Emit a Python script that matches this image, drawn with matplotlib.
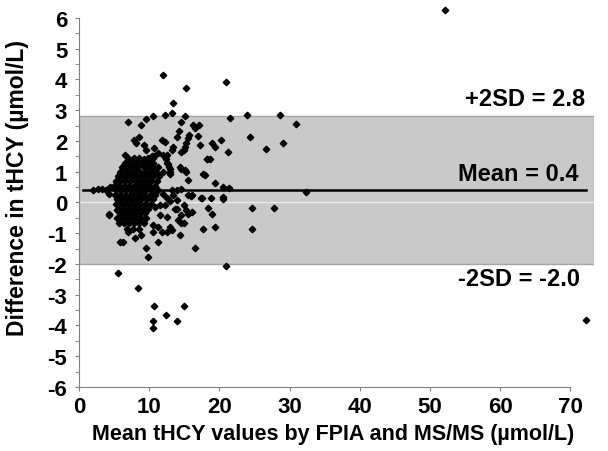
import matplotlib
matplotlib.use('Agg')
import matplotlib.pyplot as plt

plt.rcParams['font.family'] = ['Liberation Sans', 'DejaVu Sans']
plt.rcParams['font.weight'] = 'bold'
plt.rcParams['axes.unicode_minus'] = False

# limits of agreement
mean_diff = 0.4
upper_sd = 2.8
lower_sd = -2.0

# dense core of the cloud, read row by row: (difference, [means])
core_rows = [
    (1.45, [7.0, 7.8, 8.6, 9.8, 10.6]),
    (1.30, [6.5, 7.4, 8.1, 8.9, 9.6, 10.3, 12.6]),
    (1.15, [6.1, 6.9, 7.6, 8.3, 9.2, 9.8, 10.5, 11.2, 12.8]),
    (1.00, [5.8, 6.5, 7.2, 8.0, 8.7, 9.4, 10.2, 11.0, 12.0, 13.0]),
    (0.85, [5.6, 6.2, 6.9, 7.7, 8.4, 9.1, 9.8, 10.6, 11.4]),
    (0.70, [5.2, 5.9, 6.6, 7.3, 8.1, 8.8, 9.5, 10.3, 11.1]),
    (0.55, [5.0, 5.7, 6.4, 7.1, 7.8, 8.5, 9.2, 10.0, 10.8]),
    (0.40, [5.3, 6.0, 6.7, 7.4, 8.2, 8.9, 9.6, 10.4, 11.2]),
    (0.25, [5.1, 5.8, 6.5, 7.2, 7.9, 8.6, 9.3, 10.1, 10.8]),
    (0.10, [5.4, 6.1, 6.8, 7.5, 8.2, 8.9, 9.7, 10.5]),
    (-0.05, [5.2, 5.9, 6.6, 7.3, 8.0, 8.7, 9.4, 10.2]),
    (-0.20, [5.6, 6.3, 7.0, 7.7, 8.4, 9.1, 9.9]),
    (-0.35, [5.9, 6.6, 7.3, 8.0, 8.7, 9.4]),
    (-0.50, [5.4, 6.1, 6.8, 7.5, 8.2, 8.9, 9.6]),
    (-0.68, [5.7, 6.4, 7.1, 7.8, 8.6, 9.3]),
    (-0.85, [6.9, 7.7, 8.5]),
]

# scattered points around the core
spread_mean = [
    12.0, 15.2, 21.0, 13.4, 13.2, 12.3, 15.1, 10.5, 9.5, 7.0,
    8.8, 14.5, 16.3, 16.5, 17.1, 14.3, 15.7, 15.6, 17.0, 13.9,
    8.6, 7.9, 8.1, 11.8, 12.3, 15.3, 15.1, 14.9, 14.6, 18.9,
    19.4, 20.3, 21.3, 9.2, 9.5, 13.4, 13.2, 10.7, 6.6, 10.4,
    18.2, 18.7, 17.6, 21.5, 23.9, 28.7, 30.9, 24.3, 26.6, 29.1,
    17.2, 14.4, 15.1, 12.5, 9.2, 11.3, 11.9, 12.4, 12.7, 12.9,
    13.0, 10.7, 10.5, 14.6, 15.3, 18.3, 15.6, 18.0, 19.4, 20.5,
    21.4, 20.5, 20.5, 14.6, 15.6, 16.0, 17.4, 18.8, 12.9, 13.9,
    16.1, 17.5, 32.4, 14.9, 13.7, 14.6, 16.1, 14.9, 11.5, 12.5,
    10.8, 11.5, 12.2, 12.5, 12.0, 13.2, 13.9, 10.6, 11.3, 13.4,
    2.0, 2.7, 3.3, 3.8, 4.4, 4.2, 4.2, 5.4,
    21.0, 5.6, 8.4, 10.7, 15.0, 12.4, 10.6, 10.6, 14.0, 9.9,
    9.6, 16.5, 11.3, 5.8, 6.3, 7.0, 8.0, 8.9, 10.6, 11.8,
    12.5, 12.9, 13.2, 14.4, 19.4, 14.1, 14.6, 4.2, 18.4, 18.9,
    15.3, 15.6, 13.9, 24.7, 27.8, 24.7, 17.7,
    52.2, 72.2,
]
spread_diff = [
    4.13, 3.71, 3.93, 3.22, 2.90, 2.84, 2.82, 2.82, 2.71, 2.63,
    2.52, 2.63, 2.52, 2.41, 2.52, 2.34, 2.21, 2.10, 2.17, 2.12,
    2.12, 2.03, 1.92, 2.03, 1.98, 1.92, 1.81, 1.70, 1.63, 1.92,
    1.81, 2.03, 1.63, 1.87, 1.72, 1.81, 1.70, 1.76, 1.54, 1.52,
    1.43, 1.43, 0.94, 2.74, 2.84, 2.84, 2.54, 2.14, 1.74, 1.94,
    1.87, 1.16, 1.05, 1.54, 1.43, 1.62, 1.55, 1.42, 1.25, 1.08,
    0.92, 1.50, 1.30, 1.10, 0.99, 1.40, 0.73, 0.89, 0.62, 0.51,
    0.46, 0.18, 0.11, 0.43, 0.24, 0.22, 0.15, 0.15, 0.04, 0.08,
    0.24, 0.13, 0.35, -0.09, -0.20, -0.41, -0.30, -0.68, -0.41, -0.47,
    -0.14, -0.09, -0.09, 0.13, 0.29, 0.40, 0.40, -0.74, -0.79, 0.24,
    0.42, 0.45, 0.45, 0.42, 0.50, 0.29, -0.41, -0.25,
    -2.06, -2.30, -2.78, -3.38, -3.38, -3.67, -3.87, -4.09, -3.87, -1.77,
    -1.48, -1.48, -1.28, -1.28, -1.28, -0.95, -1.17, -1.06, -0.95, -0.95,
    -0.95, -0.79, -0.90, -1.06, -0.79, -0.57, -0.68, -0.36, -0.17, -0.36,
    -0.25, -0.36, -0.20, -0.17, -0.17, -0.87, -0.85,
    6.25, -3.83,
]

mean_vals = list(spread_mean)
diff_vals = list(spread_diff)
for d, xs in core_rows:
    mean_vals += xs
    diff_vals += [d] * len(xs)

fig = plt.figure(figsize=(6.08, 4.52), dpi=100)
ax = fig.add_axes([0.13, 0.1416, 0.847, 0.8164])

ax.axhspan(lower_sd, upper_sd, facecolor='#c9c9c9', edgecolor='#a5a5a5', lw=1, zorder=0)
ax.axhline(0, color='#ececec', lw=1, zorder=1)
ax.plot([0.6, 72.3], [mean_diff, mean_diff], color='black', lw=1.8, zorder=2)

ax.plot(mean_vals, diff_vals, 'D', ms=3.3, color='black', mec='black', clip_on=False, zorder=3)

ax.text(72.1, 3.39, '+2SD = 2.8', ha='right', va='center', fontsize=17, fontweight='bold')
ax.text(71.2, 0.94, 'Mean = 0.4', ha='right', va='center', fontsize=17, fontweight='bold')
ax.text(71.4, -2.48, '-2SD = -2.0', ha='right', va='center', fontsize=17, fontweight='bold')

ax.set_xlim(0, 73.4)
ax.set_ylim(-6, 6)
ax.set_xticks(range(0, 71, 10))
ax.set_yticks(range(-6, 7))
ax.set_yticks([i + 0.5 for i in range(-6, 6)], minor=True)
for s in ['top', 'right']:
    ax.spines[s].set_visible(False)
ax.spines['bottom'].set_bounds(0, 70)
for s in ['left', 'bottom']:
    ax.spines[s].set_color('#808080')
ax.tick_params(which='both', colors='#808080', length=3, labelsize=16, labelcolor='black')
ax.tick_params(axis='y', pad=5.5)
ax.tick_params(axis='x', pad=3.5)
for lab in ax.get_xticklabels() + ax.get_yticklabels():
    lab.set_fontweight('bold')

ax.set_xlabel('Mean tHCY values by FPIA and MS/MS (µmol/L)', fontsize=15.5, fontweight='bold')
ax.set_ylabel('Difference in tHCY (µmol/L)', fontsize=16.5, fontweight='bold')
ax.xaxis.set_label_coords(0.493, -0.098)
ax.yaxis.set_label_coords(-0.097, 0.542)

fig.savefig('out.png', dpi=100)
